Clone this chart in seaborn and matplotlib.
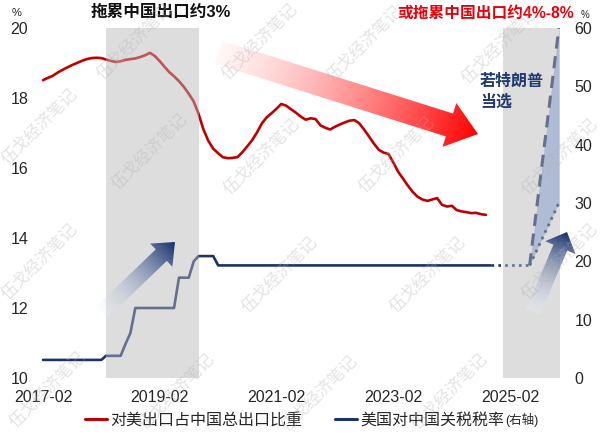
import numpy as np
import pandas as pd
import matplotlib
matplotlib.use("Agg")
import matplotlib.pyplot as plt
import matplotlib.dates as mdates
from matplotlib.patches import Polygon
from matplotlib.lines import Line2D
import seaborn as sns

# ---- data ----
share_start = "2017-02-01"
us_share = [18.51, 18.57, 18.63, 18.72, 18.80, 18.87, 18.94, 19.00, 19.06, 19.11,
            19.14, 19.15, 19.14, 19.10, 19.06, 19.03, 19.05, 19.09, 19.11, 19.13,
            19.17, 19.22, 19.29, 19.20, 19.05, 18.90, 18.74, 18.62, 18.48, 18.32,
            18.12, 17.90, 17.55, 17.10, 16.78, 16.55, 16.42, 16.31, 16.28, 16.29,
            16.31, 16.45, 16.62, 16.80, 17.02, 17.28, 17.45, 17.57, 17.70, 17.83,
            17.78, 17.68, 17.58, 17.47, 17.38, 17.42, 17.40, 17.22, 17.15, 17.10,
            17.18, 17.24, 17.30, 17.35, 17.37, 17.28, 17.10, 16.90, 16.70, 16.52,
            16.44, 16.40, 16.15, 15.90, 15.70, 15.50, 15.32, 15.18, 15.10, 15.06,
            15.10, 15.14, 14.95, 14.90, 14.92, 14.80, 14.76, 14.74, 14.71, 14.72,
            14.68, 14.66]
tariff = ([3.1] * 13 + [3.8] * 4 + [5.8, 7.7] + [12.0] * 9 + [17.2] * 3
          + [20.0] + [20.9] * 4 + [19.3] * 57)

flat_dates = ["2024-10-01", "2025-06-01"]
flat_vals = [19.3, 19.3]
scen_dates = ["2025-06-01", "2025-12-01"]
scen_high = [19.3, 60]
scen_low = [19.3, 30]

shade_spans = [("2018-03-01", "2019-10-01"), ("2024-12-15", "2025-12-08")]
xticks = ["2017-02", "2019-02", "2021-02", "2023-02", "2025-02"]
left_ticks = [10, 12, 14, 16, 18, 20]
right_ticks = [0, 10, 20, 30, 40, 50, 60]

label_share = "对美出口占中国总出口比重"
label_tariff = "美国对中国关税税率"

RED = "#c00000"
NAVY = "#1b3366"

share_df = pd.DataFrame({"date": pd.date_range(share_start, periods=len(us_share), freq="MS"),
                         "value": us_share})
tariff_df = pd.DataFrame({"date": pd.date_range(share_start, periods=len(tariff), freq="MS"),
                          "value": tariff})

sns.set_style("white")
plt.rcParams["font.family"] = ["Liberation Sans", "Noto Sans CJK SC", "DejaVu Sans"]

fig = plt.figure(figsize=(6, 4.34), dpi=100)
ax = fig.add_axes([40 / 600, 1 - 378 / 434, 520 / 600, 350 / 434])
ax2 = ax.twinx()

sns.lineplot(data=share_df, x="date", y="value", ax=ax, color=RED, linewidth=1.9)
sns.lineplot(data=tariff_df, x="date", y="value", ax=ax2, color=NAVY, linewidth=1.9)
fd = pd.to_datetime(flat_dates)
ax2.plot(fd, flat_vals, color=NAVY, linewidth=1.9, linestyle=(0, (1, 1.6)))
sd = pd.to_datetime(scen_dates)
ax2.fill_between(sd, scen_low, scen_high, color="#a9c0f0", linewidth=0, zorder=1.5)
ax2.plot(sd, scen_high, color=NAVY, linewidth=2.2, linestyle=(0, (4, 2.5)))
ax2.plot(sd, scen_low, color=NAVY, linewidth=2.0, linestyle=(0, (1, 1.6)))

# grey bands sit on top of the lines, semi-transparent
for a, b in shade_spans:
    ax2.axvspan(pd.Timestamp(a), pd.Timestamp(b), color=(0.72, 0.72, 0.72), alpha=0.47,
                linewidth=0, zorder=5)

ax.set_xlim(pd.Timestamp("2017-01-13"), pd.Timestamp("2025-12-08"))
ax.set_ylim(10, 20)
ax2.set_ylim(0, 60)
ax.set_xticks(pd.to_datetime(xticks))
ax.xaxis.set_major_formatter(mdates.DateFormatter("%Y-%m"))
ax.set_yticks(left_ticks)
ax2.set_yticks(right_ticks)
ax.set_xlabel("")
ax.set_ylabel("")
ax2.set_xlabel("")
ax2.set_ylabel("")
ax.tick_params(axis="x", length=0, pad=9, labelsize=11.5)
ax.tick_params(axis="y", length=0, pad=8.5, labelsize=11.5)
ax2.tick_params(axis="y", length=0, pad=10.5, labelsize=11.5)
for a in (ax, ax2):
    for s in a.spines.values():
        s.set_visible(False)
    a.grid(False)

# ---- overlay in pixel coords for arrows, notes, watermark ----
ov = fig.add_axes([0, 0, 1, 1], zorder=10)
ov.set_xlim(0, 600)
ov.set_ylim(434, 0)
ov.axis("off")
ov.patch.set_alpha(0)


def gradient_arrow(tail, tip, shaft_w, head_w, head_len, c0, c1, gamma=1.0):
    tail = np.array(tail, float)
    tip = np.array(tip, float)
    d = tip - tail
    L = np.hypot(*d)
    u = d / L
    n = np.array([-u[1], u[0]])
    base = tip - u * head_len
    pts = [tail + n * shaft_w / 2, base + n * shaft_w / 2, base + n * head_w / 2, tip,
           base - n * head_w / 2, base - n * shaft_w / 2, tail - n * shaft_w / 2]
    poly = Polygon(pts, closed=True, facecolor="none", edgecolor="none")
    ov.add_patch(poly)
    xs = [p[0] for p in pts]
    ys = [p[1] for p in pts]
    x0, x1, y0, y1 = min(xs), max(xs), min(ys), max(ys)
    gx, gy = np.meshgrid(np.linspace(x0, x1, 300), np.linspace(y0, y1, 300))
    t = np.clip(((gx - tail[0]) * u[0] + (gy - tail[1]) * u[1]) / L, 0, 1) ** gamma
    c0 = np.array(c0)
    c1 = np.array(c1)
    img = c0[None, None, :] * (1 - t[..., None]) + c1[None, None, :] * t[..., None]
    im = ov.imshow(img, extent=(x0, x1, y1, y0), origin="upper", aspect="auto",
                   interpolation="bilinear")
    im.set_clip_path(poly)


gradient_arrow((218, 52), (478, 134), 24, 46, 30,
               (1, 0.85, 0.85, 0.15), (1, 0.0, 0.0, 1.0), gamma=0.8)
gradient_arrow((102, 312), (175, 242), 16, 32, 19,
               (0.95, 0.97, 1.0, 0.2), (0.08, 0.18, 0.42, 1.0))
gradient_arrow((533, 312), (567, 232), 15, 33, 17,
               (0.95, 0.97, 1.0, 0.2), (0.08, 0.18, 0.42, 1.0))

ov.text(161, 12, "拖累中国出口约3%", ha="center", va="center", fontsize=12,
        fontweight="bold", color="#111111")
ov.text(486, 13, "或拖累中国出口约4%-8%", ha="center", va="center", fontsize=11.3,
        fontweight="bold", color="#e8000b")
ov.text(17, 13, "%", ha="center", va="center", fontsize=8, color="#222222")
ov.text(585, 15, "%", ha="center", va="center", fontsize=7, color="#222222")
ov.text(480, 92, "若特朗普\n当选", ha="left", va="center", fontsize=11.5,
        fontweight="bold", color="#1f3a70", linespacing=1.45)

marks = [(40, 127), (150, 152), (262, 157), (397, 155), (560, 157),
         (135, 42), (260, 42), (365, 44), (500, 46),
         (40, 262), (280, 275), (428, 275), (560, 262),
         (48, 390), (177, 392), (320, 394), (450, 392)]
for mx, my in marks:
    ov.text(mx, my, "伍戈经济笔记", rotation=45, ha="center", va="center",
            fontsize=12, color="#b0b0b0", alpha=0.35, family="Noto Sans CJK SC")

# ---- legend ----
handles = [Line2D([], [], color=RED, linewidth=2.2), Line2D([], [], color=NAVY, linewidth=2.2)]
leg = fig.legend(handles, [label_share, label_tariff], loc="center left",
                 bbox_to_anchor=(85 / 600, 1 - 420 / 434), ncol=2, frameon=False,
                 fontsize=11.5, handlelength=1.4, handletextpad=0.2, columnspacing=2.0,
                 borderpad=0, borderaxespad=0)
fig.canvas.draw()
bb = leg.get_texts()[1].get_window_extent()
x_end, y_mid = fig.transFigure.inverted().transform((bb.x1, (bb.y0 + bb.y1) / 2))
fig.text(x_end + 0.002, y_mid, "(右轴)", ha="left", va="center", fontsize=9)

fig.savefig("out.png", dpi=100, facecolor="white")
